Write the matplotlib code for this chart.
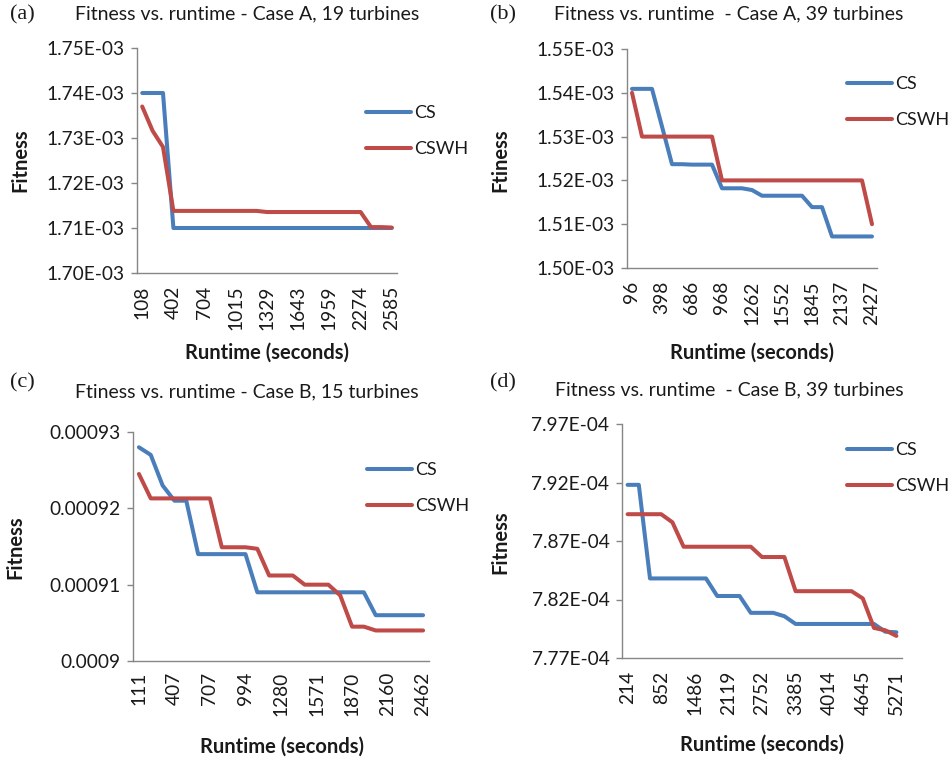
import numpy as np
import matplotlib
matplotlib.use("Agg")
import matplotlib.pyplot as plt

plt.rcParams['font.family'] = ['Lato', 'DejaVu Sans']

# panel (a) - Case A, 19 turbines (fitness in 1e-3)
a_ticks = ["108", "402", "704", "1015", "1329", "1643", "1959", "2274", "2585"]
a_cs = [1.7400, 1.7400, 1.7400] + [1.7100] * 22
a_cswh = [1.7370, 1.7316, 1.7280] + [1.7138] * 9 + [1.71355] * 10 + [1.7102, 1.7102, 1.7101]

# panel (b) - Case A, 39 turbines (fitness in 1e-3)
b_ticks = ["96", "398", "686", "968", "1262", "1552", "1845", "2137", "2427"]
b_cs = ([1.5409] * 3 + [1.5323, 1.5237, 1.5237, 1.5236, 1.5236, 1.5236]
        + [1.5182] * 3 + [1.5178] + [1.5165] * 5 + [1.5139] * 2 + [1.5072] * 5)
b_cswh = [1.5400] + [1.5300] * 8 + [1.5200] * 15 + [1.5100]

# panel (c) - Case B, 15 turbines
c_ticks = ["111", "407", "707", "994", "1280", "1571", "1870", "2160", "2462"]
c_cs = ([0.000928, 0.000927, 0.000923, 0.000921, 0.000921]
        + [0.000914] * 5 + [0.000909] * 10 + [0.000906] * 5)
c_cswh = ([0.0009245] + [0.0009213] * 6 + [0.0009149] * 3 + [0.0009147]
          + [0.0009112] * 3 + [0.0009100] * 3 + [0.0009086]
          + [0.0009045] * 2 + [0.0009040] * 5)

# panel (d) - Case B, 39 turbines (fitness in 1e-4)
d_ticks = ["214", "852", "1486", "2119", "2752", "3385", "4014", "4645", "5271"]
d_cs = ([7.918] * 2 + [7.838] * 6 + [7.823] * 3 + [7.8086] * 3 + [7.8057]
        + [7.7991] * 8 + [7.7925, 7.7920])
d_cswh = ([7.8929] * 4 + [7.886] + [7.8651] * 7 + [7.8563] * 3 + [7.8271] * 6
          + [7.8209, 7.7957, 7.7937, 7.7889])

BLUE = '#4a7ebb'
RED = '#be4b48'
GREY = '#868686'
TXT = '#1a1a1a'

W, H = 949, 757
fig = plt.figure(figsize=(W / 100, H / 100), dpi=100)


def px_axes(l, t, r, b):
    return fig.add_axes([l / W, (H - b) / H, (r - l) / W, (b - t) / H])


def draw_panel(box, cs, cswh, ticks, yticks, ylabels, xpad):
    ax = px_axes(*box)
    x = np.arange(len(cs))
    ax.plot(x, cs, color=BLUE, lw=2.9, solid_capstyle='round', solid_joinstyle='round', label='CS')
    ax.plot(x, cswh, color=RED, lw=2.9, solid_capstyle='round', solid_joinstyle='round', label='CSWH')
    ax.set_xlim(-0.5, len(cs) - 0.5)
    ax.set_ylim(yticks[0], yticks[-1])
    ax.set_xticks(x[::3])
    ax.set_xticklabels(ticks, rotation=90)
    ax.set_yticks(yticks)
    ax.set_yticklabels(ylabels)
    for s in ['top', 'right']:
        ax.spines[s].set_visible(False)
    for s in ['left', 'bottom']:
        ax.spines[s].set_color(GREY)
        ax.spines[s].set_linewidth(1.0)
    ax.tick_params(axis='y', length=4, width=1.0, color=GREY, pad=5, labelsize=13.8, labelcolor=TXT)
    ax.tick_params(axis='x', length=0, pad=xpad, labelsize=13.8, labelcolor=TXT)
    return ax


def legend_at(ax, xpx, ypx):
    ax.legend(loc='upper left', bbox_to_anchor=(xpx / W, 1 - ypx / H), bbox_transform=fig.transFigure,
              frameon=False, fontsize=13, handlelength=2.5, handletextpad=0.15,
              labelspacing=1.1, borderpad=0, borderaxespad=0, labelcolor=TXT)


# (a)
ya = np.arange(1.70, 1.7501, 0.01)
ax = draw_panel((137, 48, 397, 273), np.array(a_cs) * 1e-3, np.array(a_cswh) * 1e-3,
                a_ticks, ya * 1e-3, ["%.2fE-03" % v for v in ya], 9)
legend_at(ax, 366, 105)
# (b)
yb = np.arange(1.50, 1.5501, 0.01)
ax = draw_panel((627, 49, 877, 268), np.array(b_cs) * 1e-3, np.array(b_cswh) * 1e-3,
                b_ticks, yb * 1e-3, ["%.2fE-03" % v for v in yb], 9)
legend_at(ax, 847, 76)
# (c)
yc = [0.0009, 0.00091, 0.00092, 0.00093]
ax = draw_panel((133, 432, 429, 661), c_cs, c_cswh, c_ticks, yc,
                ["0.0009", "0.00091", "0.00092", "0.00093"], 8)
legend_at(ax, 367, 462)
# (d)
yd = np.arange(7.77, 7.9701, 0.05)
ax = draw_panel((622, 424, 902, 658), np.array(d_cs) * 1e-4, np.array(d_cswh) * 1e-4,
                d_ticks, yd * 1e-4, ["%.2fE-04" % v for v in yd], 9)
legend_at(ax, 847, 442)

# titles, panel letters, axis labels
titles = [("Fitness vs. runtime - Case A, 19 turbines", 247, 14),
          ("Fitness vs. runtime  - Case A, 39 turbines", 729, 14),
          ("Ftiness vs. runtime - Case B, 15 turbines", 247, 392),
          ("Fitness vs. runtime  - Case B, 39 turbines", 729, 390)]
for t, xp, yp in titles:
    fig.text(xp / W, 1 - yp / H, t, ha='center', va='center', fontsize=14, color=TXT)

for t, xp, yp in [("(a)", 22, 15), ("(b)", 503, 15), ("(c)", 22, 383), ("(d)", 503, 383)]:
    fig.text(xp / W, 1 - yp / H, t, ha='center', va='center', fontsize=16,
             family=['Liberation Serif', 'DejaVu Serif'], color=TXT)

for t, xp, yp in [("Fitness", 20, 160), ("Ftiness", 500, 160), ("Fitness", 15, 547), ("Fitness", 500, 542)]:
    fig.text(xp / W, 1 - yp / H, t, ha='center', va='center', rotation=90, fontsize=14.5,
             fontweight='bold', color=TXT)

for xp, yp in [(267, 353), (752, 353), (282, 747), (762, 745)]:
    fig.text(xp / W, 1 - yp / H, "Runtime (seconds)", ha='center', va='center', fontsize=14.5,
             fontweight='bold', color=TXT)

fig.savefig("out.png", dpi=100)
